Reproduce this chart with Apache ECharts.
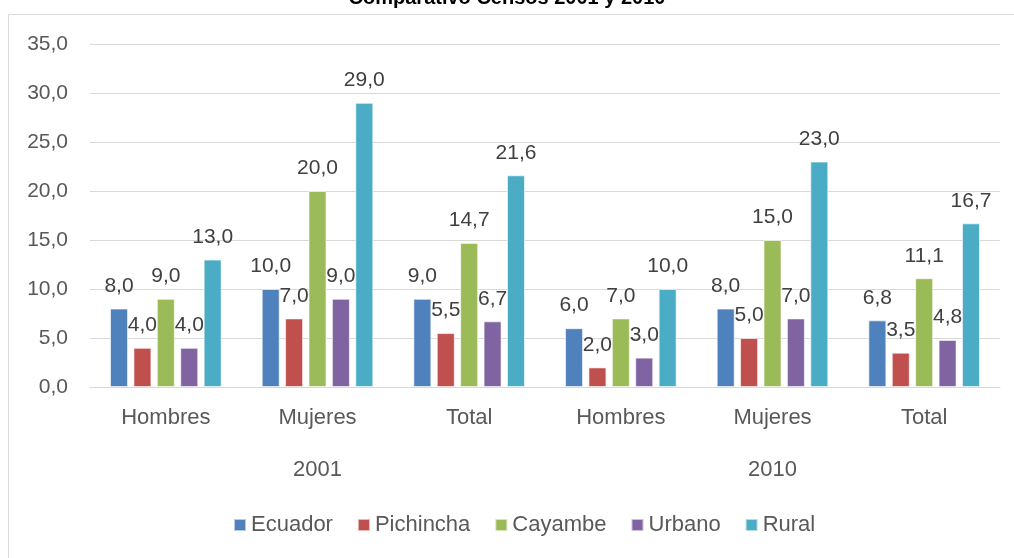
<!DOCTYPE html>
<html>
<head>
<meta charset="utf-8">
<script src="https://cdn.jsdelivr.net/npm/echarts@6/dist/echarts.min.js"></script>
<style>
  html, body { margin: 0; padding: 0; background: #fff; }
  #chart { width: 1014px; height: 558px; }
</style>
</head>
<body>
<div id="chart"></div>
<script>
// categorías (dos niveles: grupo y año)
const categories = ['Hombres', 'Mujeres', 'Total', 'Hombres', 'Mujeres', 'Total'];
const years = ['2001', '2010'];

// valores por serie
const ecuador   = [8.0, 10.0, 9.0, 6.0, 8.0, 6.8];
const pichincha = [4.0, 7.0, 5.5, 2.0, 5.0, 3.5];
const cayambe   = [9.0, 20.0, 14.7, 7.0, 15.0, 11.1];
const urbano    = [4.0, 9.0, 6.7, 3.0, 7.0, 4.8];
const rural     = [13.0, 29.0, 21.6, 10.0, 23.0, 16.7];

const seriesNames = ['Ecuador', 'Pichincha', 'Cayambe', 'Urbano', 'Rural'];
const seriesData = [ecuador, pichincha, cayambe, urbano, rural];
const colors = ['#4f81bd', '#c0504d', '#9bbb59', '#8064a2', '#4bacc6'];

const font = 'Liberation Sans';
// formato con coma decimal
const fmt = v => Number(v).toFixed(1).replace('.', ',');

const chart = echarts.init(document.getElementById('chart'));

const option = {
    animation: false,
    color: colors,
    textStyle: { fontFamily: font },
    title: {
        text: 'Comparativo Censos 2001 y 2010',
        left: 'center',
        top: -17,
        textStyle: { fontFamily: font, fontSize: 20, fontWeight: 'bold', color: '#000' }
    },
    // borde del área del gráfico
    graphic: [{
        type: 'rect',
        shape: { x: 8.5, y: 14.5, width: 1010, height: 560 },
        style: { fill: 'none', stroke: '#d9d9d9', lineWidth: 1 },
        silent: true
    }],
    grid: { left: 90, right: 14, top: 44, bottom: 171 },
    legend: {
        bottom: 17,
        left: 228,
        itemWidth: 12,
        itemHeight: 12,
        itemGap: 24,
        icon: 'rect',
        textStyle: { fontFamily: font, fontSize: 22, color: '#595959' },
        data: seriesNames
    },
    xAxis: [{
        type: 'category',
        data: categories,
        axisLine: { lineStyle: { color: '#d9d9d9' } },
        axisTick: { show: false },
        axisLabel: { color: '#595959', fontFamily: font, fontSize: 22, margin: 20 }
    }, {
        type: 'category',
        data: years,
        position: 'bottom',
        axisLine: { show: false },
        axisTick: { show: false },
        axisLabel: { color: '#595959', fontFamily: font, fontSize: 22, margin: 72 }
    }],
    yAxis: {
        type: 'value',
        min: 0,
        max: 35,
        interval: 5,
        axisLine: { show: false },
        axisTick: { show: false },
        axisLabel: { color: '#595959', fontFamily: font, fontSize: 21, margin: 22, formatter: fmt },
        splitLine: { lineStyle: { color: '#d9d9d9' } }
    },
    series: seriesNames.map((name, i) => ({
        name: name,
        type: 'bar',
        xAxisIndex: 0,
        data: seriesData[i],
        barWidth: 18,
        barGap: '30%',
        itemStyle: { color: colors[i], borderColor: 'rgba(255,255,255,0.6)', borderWidth: 1 },
        label: {
            show: true,
            position: 'top',
            distance: 12,
            color: '#404040',
            fontFamily: font,
            fontSize: 21,
            formatter: p => fmt(p.value)
        }
    }))
};

chart.setOption(option);
</script>
</body>
</html>
